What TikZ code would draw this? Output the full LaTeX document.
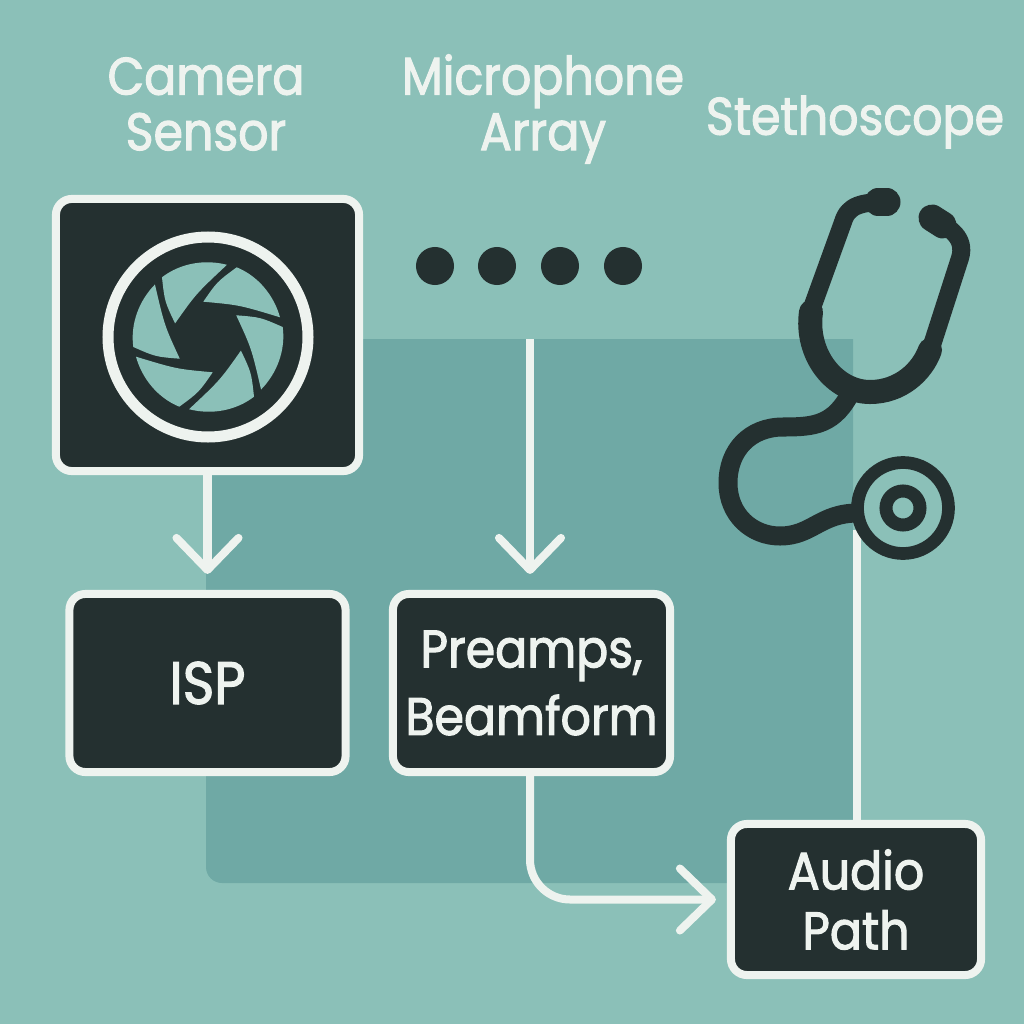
\documentclass[tikz,border=0pt]{standalone}
\usepackage{fontspec}
\setmainfont{Poppins}[FakeBold=2, FakeStretch=0.9]
\usetikzlibrary{arrows.meta}
\definecolor{bgteal}{HTML}{8BC0B8}
\definecolor{panelteal}{HTML}{6FA9A5}
\definecolor{inkdark}{HTML}{243030}
\definecolor{chalk}{HTML}{EEF3EF}

\begin{document}
\begin{tikzpicture}[x=0.01cm, y=-0.01cm,
    block/.style = {draw=chalk, fill=inkdark, text=chalk, line width=0.08cm, rounded corners=0.16cm,
        inner sep=0pt, align=center, font=\fontsize{15}{19.2}\selectfont},
    heading/.style = {text=chalk, align=center, font=\fontsize{15}{15.8}\selectfont},
    micdot/.style = {circle, fill=inkdark, minimum size=0.38cm, inner sep=0pt},
    wire/.style = {draw=chalk, line width=0.08cm},
    flow/.style = {wire, -{Straight Barb[round, length=0.32cm, width=0.62cm]}},
    tube/.style = {draw=inkdark, line cap=round, line join=round}]
    \useasboundingbox (0,0) rectangle (1024,1024);
    \fill[bgteal] (0,0) rectangle (1024,1024);
    \fill[panelteal] (853,339) -- (853,883) [rounded corners=0.16cm] -- (206,883) [sharp corners] -- (206,339) -- cycle;

    % labels
    \node[heading] (Lcam) at (206,104) {Camera\\Sensor};
    \node[heading] (Lmic) at (543,109) {Microphone\\Array};
    \node[heading] (Lste) at (855,122) {Stethoscope};

    % blocks
    \node[block, minimum width=3.03cm, minimum height=2.72cm] (Bcam) at (207.5,335) {};
    \node[block, minimum width=2.76cm, minimum height=1.78cm] (Bisp) at (207.5,683) {\fontsize{17}{19}\selectfont ISP};
    \node[block, minimum width=2.77cm, minimum height=1.78cm] (Bpre) at (531.5,683) {Preamps,\\Beamform};
    \node[block, minimum width=2.50cm, minimum height=1.51cm] (Baud) at (856,899.5) {Audio\\[-2.2pt]Path};

    % microphones
    \node[micdot] (Dmica) at (435,266) {};
    \node[micdot] (Dmicb) at (497,266) {};
    \node[micdot] (Dmicc) at (560,266) {};
    \node[micdot] (Dmicd) at (623,266) {};

    % connectors
    \coordinate (Cmic) at (530,339);
    \coordinate (Cste) at (857,530);
    \draw[flow, shorten >=0.16cm] (Bcam) -- (Bisp);
    \draw[flow, shorten >=0.16cm] (Cmic) -- (Cmic |- Bpre.north);
    \draw[flow, shorten >=0.11cm, rounded corners=0.4cm] (Cmic |- Bpre.south) |- (Baud.west);
    \draw[wire] (Cste) -- (Cste |- Baud.north);

    % shutter
    \draw[chalk, line width=0.11cm] (208,337) circle (100);
    \foreach \ang in {0,60,...,300} {
        \begin{scope}[shift={(208,337)}, rotate=\ang]
            \fill[bgteal] (28.7,-69.7) .. controls (49.9,-61) and (65.9,-41.9) .. (72,-19.7)
                .. controls (31.5,-32) .. (-4.7,-35.3) .. controls (9.1,-55.3) .. cycle;
        \end{scope}
    }

    % stethoscope
    \draw[tube, line width=0.18cm] (887,202) .. controls (862,202) and (848,205) .. (843,222) -- (813,305);
    \draw[tube, line width=0.18cm] (935,220) .. controls (950,228) and (966,238) .. (960,258) -- (932,345);
    \draw[tube, line width=0.27cm] (878,202) -- (887,202);
    \draw[tube, line width=0.27cm] (932,218) -- (943,225);
    \draw[tube, line width=0.24cm] (811,312) .. controls (805,355) and (835,392) .. (870,392)
        .. controls (900,392) and (922,372) .. (930,350);
    \draw[tube, line width=0.19cm, line cap=butt] (852,390) .. controls (835,425) and (815,427) .. (783,427)
        .. controls (750,427) and (728,450) .. (728,483) .. controls (728,515) and (752,536) .. (780,536)
        .. controls (812,536) and (820,513) .. (858,513);
    \draw[inkdark, fill=bgteal, line width=0.127cm] (903,508) circle (45.5);
    \draw[inkdark, line width=0.13cm] (903,508) circle (17);
\end{tikzpicture}
\end{document}
